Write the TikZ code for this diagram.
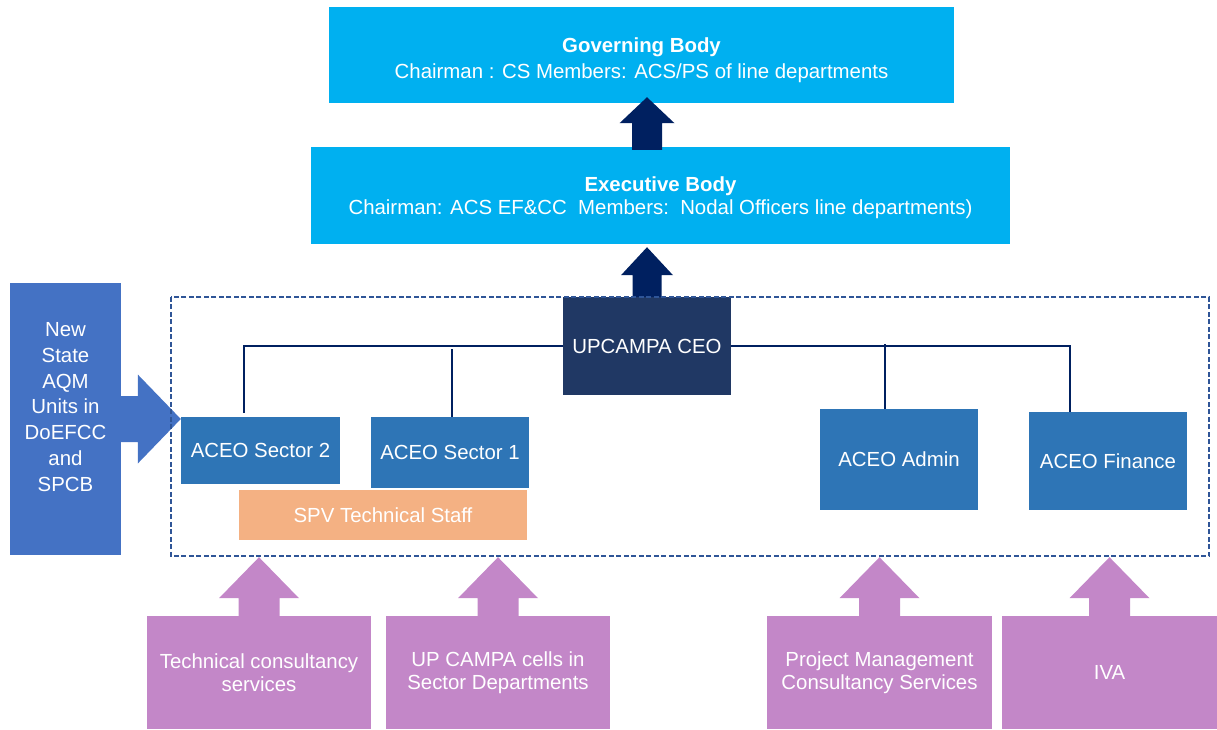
\documentclass[tikz,border=0pt]{standalone}
\usepackage{fontspec}
\setmainfont{Liberation Sans}
\usetikzlibrary{calc}

% Colores del organigrama
\definecolor{cuerpocian}{HTML}{00B0F0}
\definecolor{flechanavy}{HTML}{002060}
\definecolor{ceonavy}{HTML}{203864}
\definecolor{aceoazul}{HTML}{2E75B6}
\definecolor{spvnaranja}{HTML}{F4B183}
\definecolor{aqmazul}{HTML}{4472C4}
\definecolor{apoyomorado}{HTML}{C387C8}
\definecolor{marcoazul}{HTML}{2F5597}

\tikzset{
  caja/.style={rectangle, fill=#1, draw=none},
  lineaorg/.style={draw=flechanavy, line width=2pt},
  marco/.style={draw=marcoazul, line width=2pt, dash pattern=on 5pt off 2.5pt}
}

% Flecha de bloque hacia arriba: color, base, punta, semiancho cabeza, semiancho cuerpo, largo cabeza
\newcommand{\flechaarriba}[6]{%
  \fill[#1] let \p1=(#2), \p2=(#3) in
    (\x2,\y2) -- (\x2+#4pt,\y2-#6pt) -- (\x2+#5pt,\y2-#6pt) -- (\x2+#5pt,\y1)
    -- (\x2-#5pt,\y1) -- (\x2-#5pt,\y2-#6pt) -- (\x2-#4pt,\y2-#6pt) -- cycle;}

\begin{document}
\begin{tikzpicture}[x=1pt, y=-1pt, every node/.style={font=\fontsize{20.4}{23}\selectfont, text=white, inner sep=0pt, align=center}]

\useasboundingbox (0,0) rectangle (1217,729);

% Cuerpos superiores
\node[caja=cuerpocian, minimum width=625, minimum height=96] (gov) at (641.5,55)
  {\rule{0pt}{25pt}\textbf{Governing Body}\\[3pt]Chairman : CS Members: ACS/PS of line departments};
\node[caja=cuerpocian, minimum width=699, minimum height=97] (exec) at (660.5,195.5)
  {\rule{0pt}{18.5pt}\textbf{Executive Body}\\Chairman: ACS EF\&CC\ \ Members:\ \ Nodal Officers line departments)};

% Marco de la unidad (se dibuja al final)
\node[minimum width=1038, minimum height=259] (unidad) at (690,426.5) {};

% CEO y ACEOs
\node[caja=ceonavy, minimum width=168, minimum height=98] (ceo) at (647,346) {UPCAMPA CEO};
\node[caja=aceoazul, minimum width=159, minimum height=67] (sec2) at (260.5,450.5) {ACEO Sector 2};
\node[caja=aceoazul, minimum width=158, minimum height=71] (sec1) at (450,452.5) {ACEO Sector 1};
\node[caja=spvnaranja, minimum width=288, minimum height=50] (spv) at (383,515) {SPV Technical Staff};
\node[caja=aceoazul, minimum width=158, minimum height=101] (adm) at (899,459.5) {ACEO Admin};
\node[caja=aceoazul, minimum width=158, minimum height=98] (fin) at (1108,461) {ACEO Finance};

% Lineas del organigrama
\draw[lineaorg] ($(sec2.north)+(-16.5,-4)$) |- (ceo.west);
\draw[lineaorg] ($(sec1.north)+(2,0)$) -- ($(sec1.north |- ceo.west)+(2,3)$);
\draw[lineaorg] ($(adm.north)+(-14,0)$) -- ($(adm.north |- ceo.east)+(-14,-2)$);
\draw[lineaorg] ($(fin.north)+(-38,0)$) |- (ceo.east);

% Flechas hacia los cuerpos superiores
\coordinate (punta1) at ($(ceo.north |- gov.south)+(0,-6)$);
\coordinate (base1) at ($(ceo.north |- exec.north)+(0,3)$);
\flechaarriba{flechanavy}{base1}{punta1}{27.5}{15}{26}
\coordinate (punta2) at ($(ceo.north |- exec.south)+(0,3)$);
\flechaarriba{flechanavy}{ceo.north}{punta2}{26}{14.5}{28}

% Unidades AQM (izquierda)
\node[caja=aqmazul, minimum width=111, minimum height=272] (aqm) at (65.5,419) {};
\node[font=\fontsize{20.4}{25.7}\selectfont] (aqmtexto) at ($(aqm.center)+(0,-12)$)
  {New\\State\\AQM\\Units in\\DoEFCC\\and\\SPCB};
\coordinate (puntaaqm) at (sec2.west |- aqm.east);
\fill[aqmazul] let \p1=(aqm.east), \p2=(puntaaqm) in
  (\x1-2pt,\y1+23pt) -- (\x2-43pt,\y1+23pt) -- (\x2-43pt,\y1+44.5pt) -- (\x2,\y1)
  -- (\x2-43pt,\y1-44.5pt) -- (\x2-43pt,\y1-23pt) -- (\x1-2pt,\y1-23pt) -- cycle;

% Servicios de apoyo (abajo)
\foreach \k/\cx/\ancho/\texto in {1/259/224/{Technical consultancy\\services},
                         2/498/224/{UP CAMPA cells in\\Sector Departments},
                         3/879.5/225/{Project Management\\Consultancy Services},
                         4/1109.5/215/{IVA}} {
  \node[caja=apoyomorado, minimum width=\ancho, minimum height=113] (apoyo\k) at (\cx,672.5) {\texto};
  \coordinate (puntaap\k) at ($(apoyo\k.north |- unidad.south)+(0,1)$);
  \flechaarriba{apoyomorado}{apoyo\k.north}{puntaap\k}{40}{20.5}{41}
}

% Marco discontinuo
\draw[marco] (unidad.north west) rectangle (unidad.south east);

\end{tikzpicture}
\end{document}
